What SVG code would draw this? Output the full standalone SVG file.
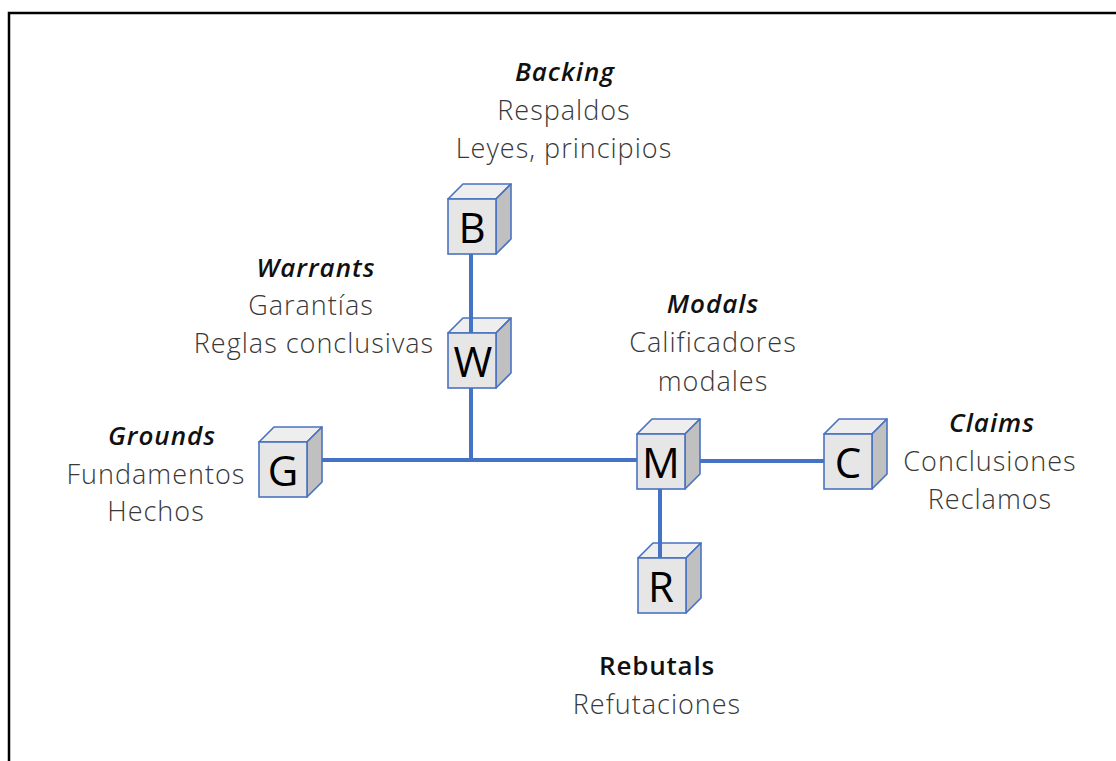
<svg xmlns="http://www.w3.org/2000/svg" width="1116" height="761" viewBox="0 0 1116 761">
  <defs>
    <style>
      .frame { fill: none; stroke: #000; stroke-width: 2.5; }
      .link { stroke: #4472c4; stroke-width: 4; fill: none; }
      .front { fill: #e6e6e6; stroke: #4a72c0; stroke-width: 1.6; }
      .top { fill: #eeeeee; stroke: #4a72c0; stroke-width: 1.6; stroke-linejoin: round; }
      .side { fill: #c0c0c0; stroke: #4a72c0; stroke-width: 1.6; stroke-linejoin: round; }
      .letter { font-family: "Open Sans", "Liberation Sans", sans-serif; font-size: 42px; fill: #000; text-anchor: middle; }
      .title { font-family: "Open Sans", "Liberation Sans", sans-serif; font-size: 26px; font-weight: 600; font-style: italic; letter-spacing: 1px; fill: #111; text-anchor: middle; }
      .title-up { font-family: "Open Sans", "Liberation Sans", sans-serif; font-size: 26px; font-weight: 600; letter-spacing: 0.8px; fill: #111; text-anchor: middle; }
      .label { font-family: "Open Sans", "Liberation Sans", sans-serif; font-size: 27px; font-weight: 300; letter-spacing: 1px; fill: #383838; text-anchor: middle; }
    </style>
    <!-- cube: front face 48x55 at origin, depth offset 15 up-right -->
    <g id="cube">
      <polygon class="top" points="0,0 15,-15 63,-15 48,0"/>
      <polygon class="side" points="48,0 63,-15 63,40 48,55"/>
      <rect class="front" x="0" y="0" width="48" height="55"/>
    </g>
  </defs>

  <rect class="frame" x="9" y="13" width="1130" height="770"/>

  <g id="node-B">
    <use href="#cube" x="448" y="199"/>
    <text class="letter" x="472" y="243">B</text>
  </g>
  <g id="node-W">
    <use href="#cube" x="448" y="333"/>
    <text class="letter" x="473" y="377">W</text>
  </g>
  <g id="node-G">
    <use href="#cube" x="259" y="442"/>
    <text class="letter" x="283" y="486">G</text>
  </g>
  <g id="node-M">
    <use href="#cube" x="637" y="434"/>
    <text class="letter" x="661" y="478">M</text>
  </g>
  <g id="node-C">
    <use href="#cube" x="824" y="434"/>
    <text class="letter" x="848" y="478">C</text>
  </g>
  <g id="node-R">
    <use href="#cube" x="638" y="558"/>
    <text class="letter" x="661" y="602">R</text>
  </g>

  <g id="connectors">
    <line class="link" x1="471" y1="254" x2="471" y2="333"/>
    <line class="link" x1="471" y1="388" x2="471" y2="460"/>
    <line class="link" x1="322" y1="460" x2="637" y2="460"/>
    <line class="link" x1="700" y1="461" x2="824" y2="461"/>
    <line class="link" x1="660" y1="489" x2="660" y2="558"/>
  </g>

  <g id="label-backing">
    <text class="title" x="565" y="81">Backing</text>
    <text class="label" x="564" y="120">Respaldos</text>
    <text class="label" x="564" y="158">Leyes, principios</text>
  </g>
  <g id="label-warrants">
    <text class="title" x="316" y="277">Warrants</text>
    <text class="label" x="311" y="315">Garantías</text>
    <text class="label" x="314" y="353">Reglas conclusivas</text>
  </g>
  <g id="label-modals">
    <text class="title" x="713" y="313">Modals</text>
    <text class="label" x="713" y="352">Calificadores</text>
    <text class="label" x="713" y="391">modales</text>
  </g>
  <g id="label-grounds">
    <text class="title" x="162" y="445">Grounds</text>
    <text class="label" x="156" y="484">Fundamentos</text>
    <text class="label" x="156" y="521">Hechos</text>
  </g>
  <g id="label-claims">
    <text class="title" x="992" y="432">Claims</text>
    <text class="label" x="990" y="471">Conclusiones</text>
    <text class="label" x="990" y="509">Reclamos</text>
  </g>
  <g id="label-rebutals">
    <text class="title-up" x="657" y="675">Rebutals</text>
    <text class="label" x="657" y="714">Refutaciones</text>
  </g>
</svg>
